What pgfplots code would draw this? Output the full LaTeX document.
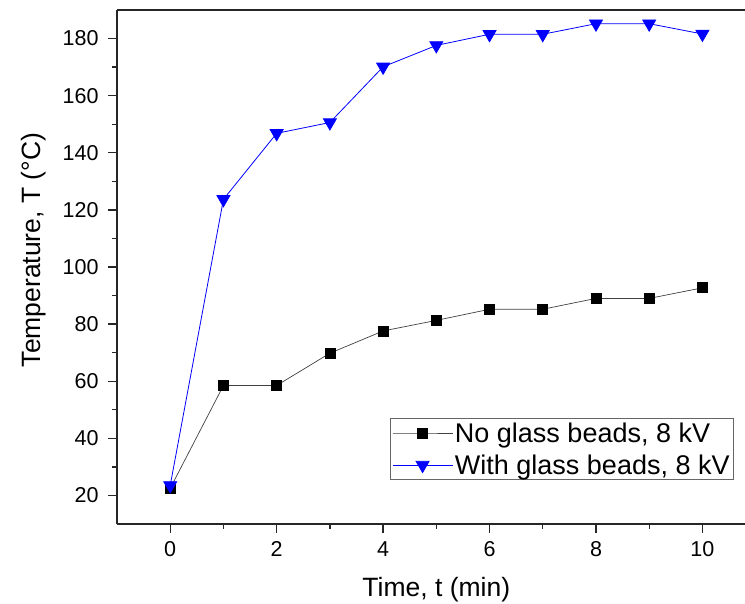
\documentclass[border=0pt]{standalone}
\usepackage{fontspec}
\setmainfont{Liberation Sans}
\usepackage{pgfplots}
\pgfplotsset{compat=1.18}

\begin{document}
\begin{tikzpicture}
    \begin{axis}[
        scale only axis,
        width=628pt, height=514pt,
        xmin=-1, xmax=10.8,
        ymin=10, ymax=190,
        axis x line*=box,
        axis y line*=left,
        axis line style={-, line width=1.5pt, black!85},
        xtick pos=left, ytick pos=left,
        tick align=outside,
        xtick={0,2,...,10},
        ytick={20,40,...,180},
        minor x tick num=1,
        minor y tick num=1,
        major tick length=9pt,
        minor tick length=5pt,
        every tick/.style={line width=1.3pt, black!85},
        tick label style={font=\fontsize{21.5}{25}\selectfont},
        yticklabel style={xshift=-6pt},
        xticklabel style={yshift=-5pt},
        /pgf/number format/assume math mode=true,
        xlabel={Time, t (min)},
        ylabel={Temperature, T (\textdegree C)},
        every axis x label/.style={at={(axis description cs:0.5085,-0.142)}, anchor=base, font=\fontsize{26.5}{30}\selectfont},
        every axis y label/.style={at={(axis description cs:-0.1226,0.533)}, rotate=90, anchor=base, font=\fontsize{26.5}{30}\selectfont},
        legend style={at={(axis description cs:0.9825,0.0856)}, anchor=south east,
            draw=black!60, line width=0.8pt, fill=white,
            font=\fontsize{27}{31}\selectfont, inner sep=2pt, row sep=7pt},
        legend cell align=left,
        legend image code/.code={%
            \draw[mark repeat=2, mark phase=2] plot coordinates {(0pt,0pt) (30pt,0pt) (60pt,0pt)};},
    ]
    % no glass beads
    \addplot[black!75, line width=0.7pt, mark=square*, mark size=5pt,
        mark options={solid, fill=black, draw=black}] coordinates {
        (0,22.5) (1,58.5) (2,58.5) (3,69.8) (4,77.6) (5,81.3)
        (6,85.2) (7,85.2) (8,89) (9,89) (10,92.7)
    };
    \addlegendentry{No glass beads, 8 kV}

    % with glass beads
    \addplot[blue, line width=0.8pt, mark=triangle*, mark size=7.5pt,
        mark options={solid, fill=blue, draw=blue, rotate=180}] coordinates {
        (0,23.5) (1,123.7) (2,146.8) (3,150.6) (4,170.1) (5,177.6)
        (6,181.5) (7,181.5) (8,185.2) (9,185.2) (10,181.6)
    };
    \addlegendentry{With glass beads, 8 kV}
    \end{axis}
    \pgfresetboundingbox
    \useasboundingbox ([shift={(-117pt,-80pt)}]current axis.south west)
        rectangle ([shift={(0pt,10pt)}]current axis.north east);
\end{tikzpicture}
\end{document}
